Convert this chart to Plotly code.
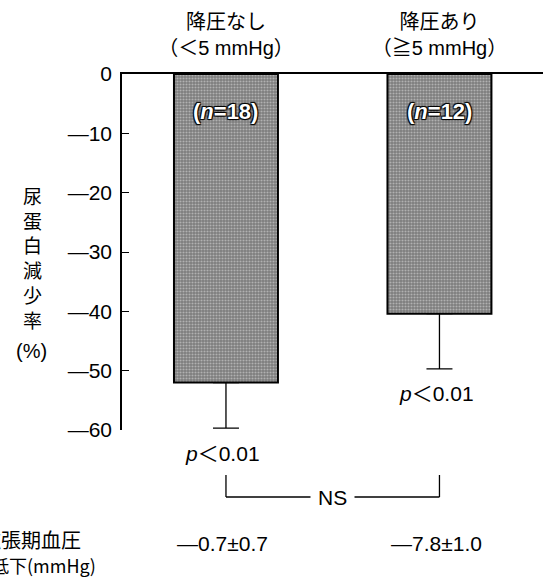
import plotly.graph_objects as go

# Urinary protein reduction by blood-pressure response group
groups = ["降圧なし<br>（＜5 mmHg）", "降圧あり<br>（≧5 mmHg）"]
n_labels = ["(<i>n</i>=18)", "(<i>n</i>=12)"]
reduction = [-52.0, -40.4]          # mean reduction rate (%)
reduction_err = [7.7, 9.3]          # lower error
p_labels = ["<i>p</i>＜0.01", "<i>p</i>＜0.01"]
dbp_change = ["—0.7±0.7", "—7.8±1.0"]
y_ticks = [0, -10, -20, -30, -40, -50, -60]
y_ticktext = ["0", "—10", "—20", "—30", "—40", "—50", "—60"]

W, H = 543, 583
L, R, T, B = 122, 0, 74, 153
plot_h = H - T - B

LATIN = "Liberation Sans, Arial, Noto Sans CJK JP"
CJK = "Noto Sans CJK JP"


def py(px):
    """pixel row -> paper y"""
    return (H - B - px) / plot_h


def pxp(px):
    """pixel column -> paper x"""
    return (px - L) / (W - L - R)


xpos = list(range(len(groups)))

fig = go.Figure()
fig.add_trace(go.Bar(
    x=xpos,
    y=reduction,
    width=0.487,
    marker=dict(
        color="#8a8a8a",
        line=dict(color="black", width=2),
        pattern=dict(shape=".", fgcolor="#e6e6e6", bgcolor="#7c7c7c",
                     size=3, solidity=0.4),
    ),
    error_y=dict(type="data", symmetric=False,
                 array=[0] * len(reduction), arrayminus=reduction_err,
                 color="black", thickness=1.3, width=13),
    hoverinfo="skip",
    showlegend=False,
))

annotations = []
for i, (v, e) in enumerate(zip(reduction, reduction_err)):
    # sample size inside the top of each bar
    annotations.append(dict(
        x=i, y=0, xref="x", yref="y", yshift=-37, showarrow=False,
        text=n_labels[i], yanchor="middle",
        font=dict(family=LATIN, size=22, color="white", weight="bold",
                  shadow="1px 1px 1px #000, -1px -1px 1px #000, "
                         "1px -1px 1px #000, -1px 1px 1px #000"),
    ))
    # significance below each error bar
    annotations.append(dict(
        x=i, y=v - e, xref="x", yref="y", yshift=-25, xshift=-3,
        showarrow=False, text=p_labels[i], yanchor="middle",
        font=dict(family=LATIN, size=21, color="black"),
    ))
    # diastolic BP change
    annotations.append(dict(
        x=i, y=py(543), xref="x", yref="paper", showarrow=False,
        text=dbp_change[i], yanchor="middle", xshift=-3,
        font=dict(family=LATIN, size=21, color="black"),
    ))

# NS label on the comparison bracket
annotations.append(dict(
    x=0.5, y=py(497), xref="x", yref="paper", showarrow=False,
    text="NS", yanchor="middle", bgcolor="white", borderpad=7,
    font=dict(family=LATIN, size=21, color="black"),
))

# vertical y-axis title
annotations.append(dict(
    x=pxp(32), y=py(257), xref="paper", yref="paper", showarrow=False,
    text="<br>".join("尿蛋白減少率"), yanchor="middle", xanchor="center",
    font=dict(family=CJK, size=19, color="black"),
))
annotations.append(dict(
    x=pxp(31), y=py(351), xref="paper", yref="paper", showarrow=False,
    text="(%)", yanchor="middle", xanchor="center",
    font=dict(family=LATIN, size=20, color="black"),
))

# row label for diastolic BP change
annotations.append(dict(
    x=pxp(83), y=py(539), xref="paper", yref="paper", showarrow=False,
    text="拡張期血圧", yanchor="middle", xanchor="right",
    font=dict(family=CJK, size=20, color="black"),
))
annotations.append(dict(
    x=pxp(98), y=py(565), xref="paper", yref="paper", showarrow=False,
    text="低下(mmHg)", yanchor="middle", xanchor="right",
    font=dict(family=CJK, size=18, color="black"),
))

shapes = [
    dict(type="line", xref="x", yref="paper", x0=0, x1=0,
         y0=py(475), y1=py(497), line=dict(color="black", width=1.3)),
    dict(type="line", xref="x", yref="paper", x0=1, x1=1,
         y0=py(475), y1=py(497), line=dict(color="black", width=1.3)),
    dict(type="line", xref="x", yref="paper", x0=0, x1=1,
         y0=py(497), y1=py(497), line=dict(color="black", width=1.3)),
]

fig.update_layout(
    width=W, height=H,
    margin=dict(l=L, r=R, t=T, b=B),
    paper_bgcolor="white", plot_bgcolor="white",
    showlegend=False,
    annotations=annotations,
    shapes=shapes,
    xaxis=dict(
        side="top", range=[-0.487, 1.485],
        tickvals=xpos, ticktext=groups,
        showline=True, linecolor="black", linewidth=1.5,
        ticks="", showgrid=False, zeroline=False,
        ticklabelstandoff=9,
        tickfont=dict(family=LATIN, size=20, color="black"),
        fixedrange=True,
    ),
    yaxis=dict(
        range=[-60, 0],
        tickvals=y_ticks, ticktext=y_ticktext,
        showline=True, linecolor="black", linewidth=1.5,
        ticks="inside", ticklen=7, tickwidth=1.3, tickcolor="black",
        showgrid=False, zeroline=False,
        tickfont=dict(family=LATIN, size=21, color="black"),
        ticklabelstandoff=4,
        fixedrange=True,
    ),
)

fig.write_html("out.html")
